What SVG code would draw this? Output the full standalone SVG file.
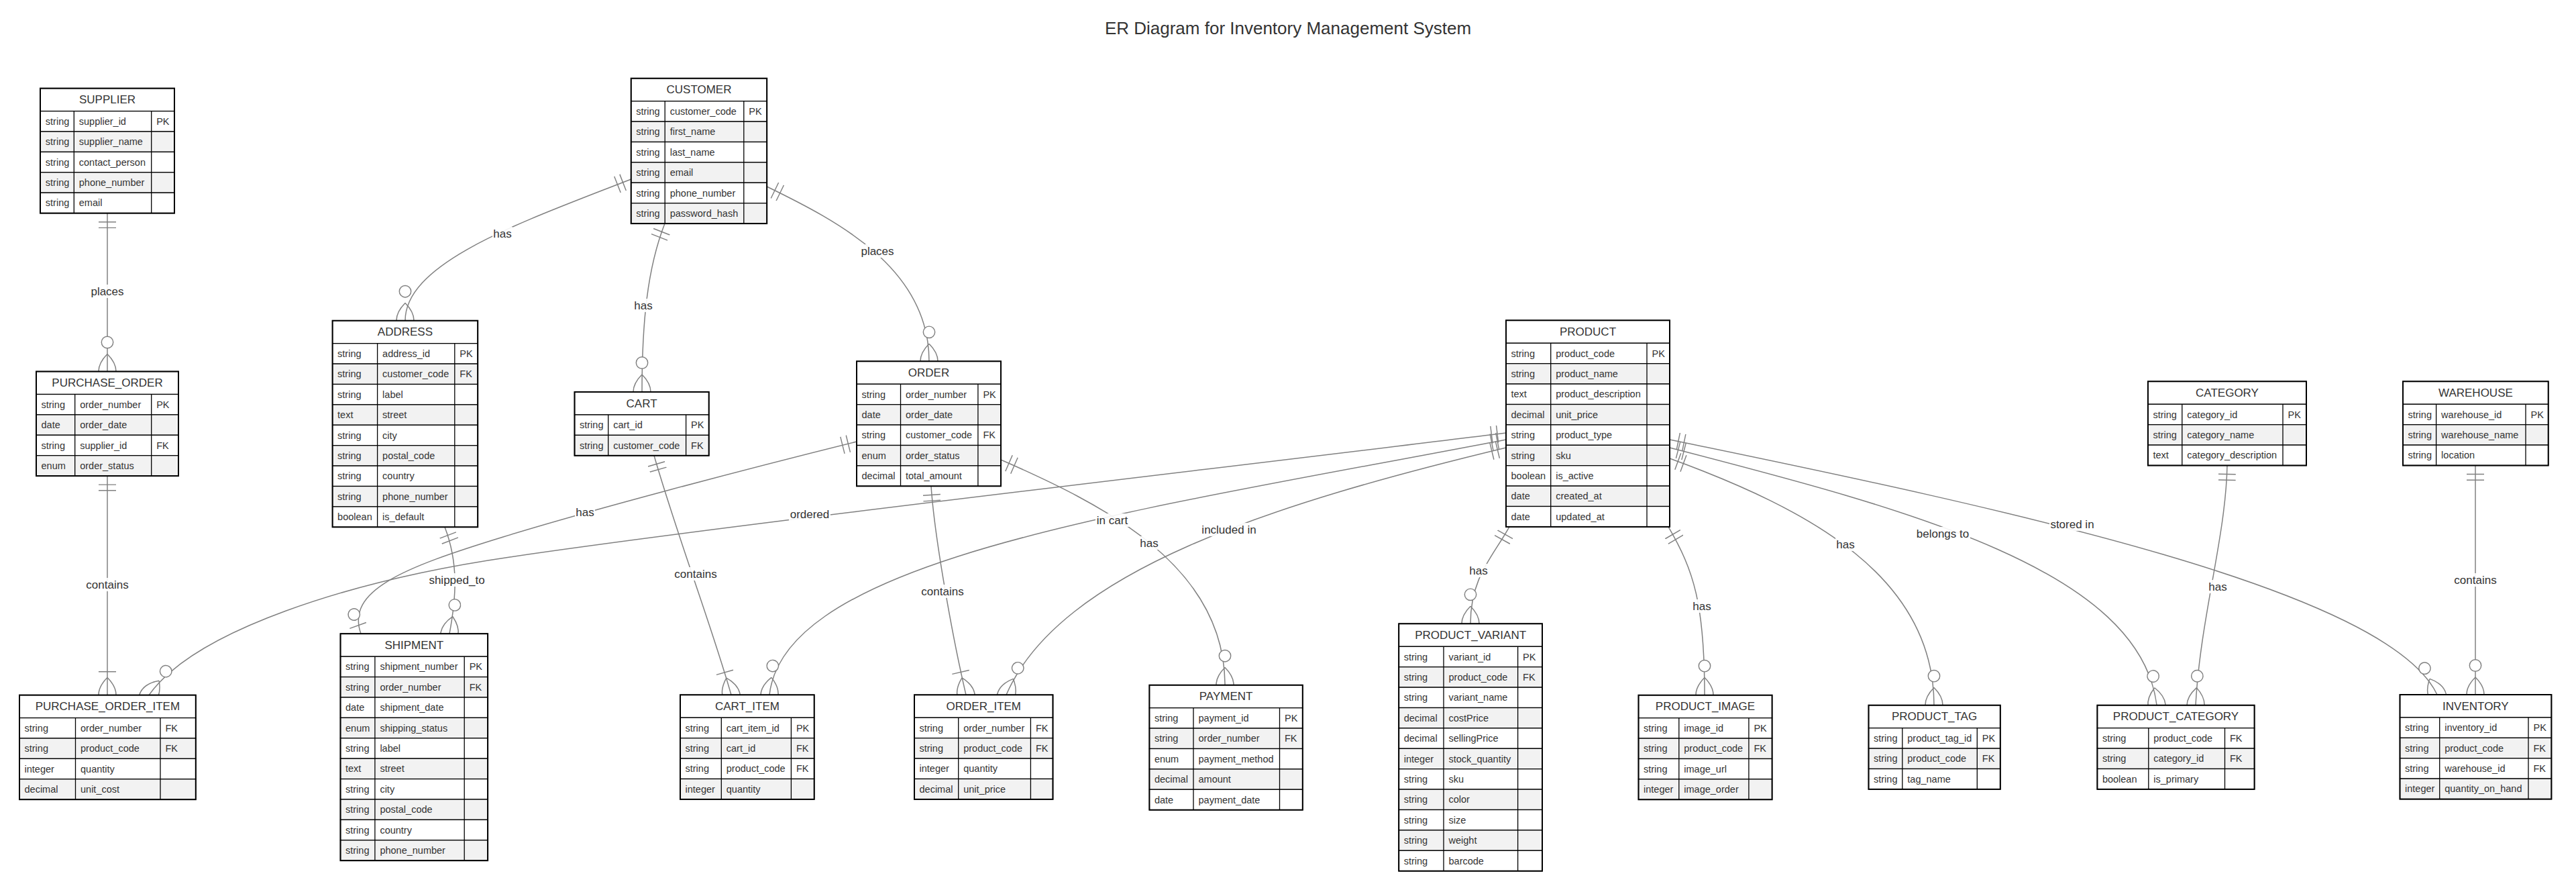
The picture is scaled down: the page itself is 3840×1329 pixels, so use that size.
<svg xmlns="http://www.w3.org/2000/svg" width="3840" height="1329" viewBox="0 0 3840 1329">
<style>
.bg{fill:#fff}
.hd,.o{fill:#fff;stroke:#000;stroke-width:1.3}
.e{fill:#f2f2f2;stroke:#000;stroke-width:1.3}
.dv{stroke:#000;stroke-width:1.3}
.bx{fill:none;stroke:#000;stroke-width:2}
.t{font-family:"Liberation Sans",Arial,sans-serif;font-size:14.5px;fill:#333;dominant-baseline:central}
.h{font-family:"Liberation Sans",Arial,sans-serif;font-size:17px;fill:#333;text-anchor:middle;dominant-baseline:central}
.title{font-family:"Liberation Sans",Arial,sans-serif;font-size:26px;fill:#333;text-anchor:middle}
.rel{fill:none;stroke:#808080;stroke-width:1.5}
.one{marker-start:url(#oneStart)}
.zm{marker-end:url(#zeroMany)}
.om{marker-end:url(#oneMany)}
.zo{marker-end:url(#zeroOne)}
.lb{fill:#fff;opacity:0.9}
.lt{font-family:"Liberation Sans",Arial,sans-serif;font-size:17px;fill:#333;text-anchor:middle;dominant-baseline:central}
.mk{fill:none;stroke:#808080;stroke-width:1}
.mc{fill:#fff;stroke:#808080;stroke-width:1}
</style>
<defs>
<marker id="oneStart" viewBox="0 0 18 18" markerUnits="userSpaceOnUse" markerWidth="26.1" markerHeight="26.1" refX="0" refY="9" orient="auto"><path class="mk" d="M9,0 L9,18 M15,0 L15,18"/></marker>
<marker id="zeroMany" viewBox="0 0 57 36" markerUnits="userSpaceOnUse" markerWidth="82.65" markerHeight="52.2" refX="39" refY="18" orient="auto"><circle class="mc" cx="9" cy="18" r="6"/><path class="mk" d="M21,18 Q39,0 57,18 Q39,36 21,18"/></marker>
<marker id="oneMany" viewBox="0 0 45 36" markerUnits="userSpaceOnUse" markerWidth="65.25" markerHeight="52.2" refX="27" refY="18" orient="auto"><path class="mk" d="M3,9 L3,27 M9,18 Q27,0 45,18 Q27,36 9,18"/></marker>
<marker id="zeroOne" viewBox="0 0 30 18" markerUnits="userSpaceOnUse" markerWidth="43.5" markerHeight="26.1" refX="30" refY="9" orient="auto"><circle class="mc" cx="9" cy="9" r="6"/><path class="mk" d="M21,0 L21,18"/></marker>
</defs>
<rect class="bg" x="0" y="0" width="3840" height="1329"/>
<text class="title" x="1920" y="51">ER Diagram for Inventory Management System</text>

<g id="connectors">
<path class="rel one zm" d="M160,317.6 L160,553.5"/>
<path class="rel one om" d="M160,709.1 L160,1035.6"/>
<path class="rel one zm" d="M940.7,267 C780,330 604,390 604,477.7"/>
<path class="rel one zm" d="M991,333.1 C965,400 957,480 957,584"/>
<path class="rel one zm" d="M1143.2,278 C1250,330 1385,400 1385,538.3"/>
<path class="rel one zm" d="M663,785.3 C684,840 680,890 670,944.2"/>
<path class="rel one zo" d="M1277,658 C1100,702 880,760 750,800 C600,846 515,880 538,944.2"/>
<path class="rel one om" d="M975,678.8 C1010,800 1060,930 1090,1035.3"/>
<path class="rel one om" d="M1388,724.3 C1393,800 1420,950 1440,1035.3"/>
<path class="rel one zm" d="M1492,685 C1640,750 1826,840 1826,1020.7"/>
<path class="rel one zm" d="M2245,645 C1800,700 1100,780 760,830 C520,865 290,940 222,1035.6"/>
<path class="rel one zm" d="M2245,655 C1700,760 1170,830 1147,1035.3"/>
<path class="rel one zm" d="M2245,667 C1900,750 1580,850 1500,1035.3"/>
<path class="rel one zm" d="M2250,784.9 C2225,830 2192,860 2192,929.3"/>
<path class="rel one zm" d="M2487,784.9 C2525,850 2541,900 2541,1035.7"/>
<path class="rel one zm" d="M2489,683 C2700,760 2883,860 2883,1050.7"/>
<path class="rel one zm" d="M2489,667 C2850,760 3190,850 3215,1050.7"/>
<path class="rel one zm" d="M2489,655 C3000,760 3560,880 3633,1035"/>
<path class="rel one zm" d="M3320,693.5 C3318,800 3280,920 3273,1050.7"/>
<path class="rel one zm" d="M3690,693.5 L3690,1035"/>
<rect class="lb" x="134" y="424" width="52" height="20"/><text class="lt" x="160" y="434">places</text>
<rect class="lb" x="127" y="861" width="66" height="20"/><text class="lt" x="160" y="871">contains</text>
<rect class="lb" x="734" y="338" width="30" height="20"/><text class="lt" x="749" y="348">has</text>
<rect class="lb" x="944" y="445" width="30" height="20"/><text class="lt" x="959" y="455">has</text>
<rect class="lb" x="1282" y="364" width="52" height="20"/><text class="lt" x="1308" y="374">places</text>
<rect class="lb" x="638" y="854" width="86" height="20"/><text class="lt" x="681" y="864">shipped_to</text>
<rect class="lb" x="857" y="753" width="30" height="20"/><text class="lt" x="872" y="763">has</text>
<rect class="lb" x="1004" y="845" width="66" height="20"/><text class="lt" x="1037" y="855">contains</text>
<rect class="lb" x="1372" y="871" width="66" height="20"/><text class="lt" x="1405" y="881">contains</text>
<rect class="lb" x="1698" y="799" width="30" height="20"/><text class="lt" x="1713" y="809">has</text>
<rect class="lb" x="1176" y="756" width="62" height="20"/><text class="lt" x="1207" y="766">ordered</text>
<rect class="lb" x="1633" y="765" width="50" height="20"/><text class="lt" x="1658" y="775">in cart</text>
<rect class="lb" x="1790" y="779" width="84" height="20"/><text class="lt" x="1832" y="789">included in</text>
<rect class="lb" x="2189" y="840" width="30" height="20"/><text class="lt" x="2204" y="850">has</text>
<rect class="lb" x="2522" y="893" width="30" height="20"/><text class="lt" x="2537" y="903">has</text>
<rect class="lb" x="2736" y="801" width="30" height="20"/><text class="lt" x="2751" y="811">has</text>
<rect class="lb" x="2855" y="785" width="82" height="20"/><text class="lt" x="2896" y="795">belongs to</text>
<rect class="lb" x="3055" y="771" width="68" height="20"/><text class="lt" x="3089" y="781">stored in</text>
<rect class="lb" x="3291" y="864" width="30" height="20"/><text class="lt" x="3306" y="874">has</text>
<rect class="lb" x="3657" y="854" width="66" height="20"/><text class="lt" x="3690" y="864">contains</text>
</g>

<g id="SUPPLIER">
<rect class="hd" x="60" y="131.6" width="200" height="34"/>
<rect class="o" x="60" y="165.6" width="200" height="30.4"/>
<rect class="e" x="60" y="196" width="200" height="30.4"/>
<rect class="o" x="60" y="226.4" width="200" height="30.4"/>
<rect class="e" x="60" y="256.8" width="200" height="30.4"/>
<rect class="o" x="60" y="287.2" width="200" height="30.4"/>
<line class="dv" x1="110.3" y1="165.6" x2="110.3" y2="317.6"/>
<line class="dv" x1="225.7" y1="165.6" x2="225.7" y2="317.6"/>
<rect class="bx" x="60" y="131.6" width="200" height="186"/>
<text class="h" x="160" y="148.6">SUPPLIER</text>
<text class="t" x="67.8" y="180.8">string</text><text class="t" x="117.8" y="180.8">supplier_id</text><text class="t" x="233.2" y="180.8">PK</text>
<text class="t" x="67.8" y="211.2">string</text><text class="t" x="117.8" y="211.2">supplier_name</text>
<text class="t" x="67.8" y="241.6">string</text><text class="t" x="117.8" y="241.6">contact_person</text>
<text class="t" x="67.8" y="272">string</text><text class="t" x="117.8" y="272">phone_number</text>
<text class="t" x="67.8" y="302.4">string</text><text class="t" x="117.8" y="302.4">email</text>
</g>

<g id="CUSTOMER">
<rect class="hd" x="940.7" y="116.7" width="202.5" height="34"/>
<rect class="o" x="940.7" y="150.7" width="202.5" height="30.4"/>
<rect class="e" x="940.7" y="181.1" width="202.5" height="30.4"/>
<rect class="o" x="940.7" y="211.5" width="202.5" height="30.4"/>
<rect class="e" x="940.7" y="241.9" width="202.5" height="30.4"/>
<rect class="o" x="940.7" y="272.3" width="202.5" height="30.4"/>
<rect class="e" x="940.7" y="302.7" width="202.5" height="30.4"/>
<line class="dv" x1="991.2" y1="150.7" x2="991.2" y2="333.1"/>
<line class="dv" x1="1108.8" y1="150.7" x2="1108.8" y2="333.1"/>
<rect class="bx" x="940.7" y="116.7" width="202.5" height="216.4"/>
<text class="h" x="1042" y="133.7">CUSTOMER</text>
<text class="t" x="948.2" y="165.9">string</text><text class="t" x="998.7" y="165.9">customer_code</text><text class="t" x="1116.3" y="165.9">PK</text>
<text class="t" x="948.2" y="196.3">string</text><text class="t" x="998.7" y="196.3">first_name</text>
<text class="t" x="948.2" y="226.7">string</text><text class="t" x="998.7" y="226.7">last_name</text>
<text class="t" x="948.2" y="257.1">string</text><text class="t" x="998.7" y="257.1">email</text>
<text class="t" x="948.2" y="287.5">string</text><text class="t" x="998.7" y="287.5">phone_number</text>
<text class="t" x="948.2" y="317.9">string</text><text class="t" x="998.7" y="317.9">password_hash</text>
</g>

<g id="PURCHASE_ORDER">
<rect class="hd" x="54" y="553.5" width="212" height="34"/>
<rect class="o" x="54" y="587.5" width="212" height="30.4"/>
<rect class="e" x="54" y="617.9" width="212" height="30.4"/>
<rect class="o" x="54" y="648.3" width="212" height="30.4"/>
<rect class="e" x="54" y="678.7" width="212" height="30.4"/>
<line class="dv" x1="111.7" y1="587.5" x2="111.7" y2="709.1"/>
<line class="dv" x1="225.7" y1="587.5" x2="225.7" y2="709.1"/>
<rect class="bx" x="54" y="553.5" width="212" height="155.6"/>
<text class="h" x="160" y="570.5">PURCHASE_ORDER</text>
<text class="t" x="61.5" y="602.7">string</text><text class="t" x="119.2" y="602.7">order_number</text><text class="t" x="233.2" y="602.7">PK</text>
<text class="t" x="61.5" y="633.1">date</text><text class="t" x="119.2" y="633.1">order_date</text>
<text class="t" x="61.5" y="663.5">string</text><text class="t" x="119.2" y="663.5">supplier_id</text><text class="t" x="233.2" y="663.5">FK</text>
<text class="t" x="61.5" y="693.9">enum</text><text class="t" x="119.2" y="693.9">order_status</text>
</g>

<g id="ADDRESS">
<rect class="hd" x="495.6" y="477.7" width="216.6" height="34"/>
<rect class="o" x="495.6" y="511.7" width="216.6" height="30.4"/>
<rect class="e" x="495.6" y="542.1" width="216.6" height="30.4"/>
<rect class="o" x="495.6" y="572.5" width="216.6" height="30.4"/>
<rect class="e" x="495.6" y="602.9" width="216.6" height="30.4"/>
<rect class="o" x="495.6" y="633.3" width="216.6" height="30.4"/>
<rect class="e" x="495.6" y="663.7" width="216.6" height="30.4"/>
<rect class="o" x="495.6" y="694.1" width="216.6" height="30.4"/>
<rect class="e" x="495.6" y="724.5" width="216.6" height="30.4"/>
<rect class="o" x="495.6" y="754.9" width="216.6" height="30.4"/>
<line class="dv" x1="562.6" y1="511.7" x2="562.6" y2="785.3"/>
<line class="dv" x1="677.8" y1="511.7" x2="677.8" y2="785.3"/>
<rect class="bx" x="495.6" y="477.7" width="216.6" height="307.6"/>
<text class="h" x="603.9" y="494.7">ADDRESS</text>
<text class="t" x="503.1" y="526.9">string</text><text class="t" x="570.1" y="526.9">address_id</text><text class="t" x="685.3" y="526.9">PK</text>
<text class="t" x="503.1" y="557.3">string</text><text class="t" x="570.1" y="557.3">customer_code</text><text class="t" x="685.3" y="557.3">FK</text>
<text class="t" x="503.1" y="587.7">string</text><text class="t" x="570.1" y="587.7">label</text>
<text class="t" x="503.1" y="618.1">text</text><text class="t" x="570.1" y="618.1">street</text>
<text class="t" x="503.1" y="648.5">string</text><text class="t" x="570.1" y="648.5">city</text>
<text class="t" x="503.1" y="678.9">string</text><text class="t" x="570.1" y="678.9">postal_code</text>
<text class="t" x="503.1" y="709.3">string</text><text class="t" x="570.1" y="709.3">country</text>
<text class="t" x="503.1" y="739.7">string</text><text class="t" x="570.1" y="739.7">phone_number</text>
<text class="t" x="503.1" y="770.1">boolean</text><text class="t" x="570.1" y="770.1">is_default</text>
</g>

<g id="CART">
<rect class="hd" x="856.5" y="584" width="200.2" height="34"/>
<rect class="o" x="856.5" y="618" width="200.2" height="30.4"/>
<rect class="e" x="856.5" y="648.4" width="200.2" height="30.4"/>
<line class="dv" x1="906.7" y1="618" x2="906.7" y2="678.8"/>
<line class="dv" x1="1022.6" y1="618" x2="1022.6" y2="678.8"/>
<rect class="bx" x="856.5" y="584" width="200.2" height="94.8"/>
<text class="h" x="956.6" y="601">CART</text>
<text class="t" x="864" y="633.2">string</text><text class="t" x="914.2" y="633.2">cart_id</text><text class="t" x="1030.1" y="633.2">PK</text>
<text class="t" x="864" y="663.6">string</text><text class="t" x="914.2" y="663.6">customer_code</text><text class="t" x="1030.1" y="663.6">FK</text>
</g>

<g id="ORDER">
<rect class="hd" x="1277" y="538.3" width="215" height="34"/>
<rect class="o" x="1277" y="572.3" width="215" height="30.4"/>
<rect class="e" x="1277" y="602.7" width="215" height="30.4"/>
<rect class="o" x="1277" y="633.1" width="215" height="30.4"/>
<rect class="e" x="1277" y="663.5" width="215" height="30.4"/>
<rect class="o" x="1277" y="693.9" width="215" height="30.4"/>
<line class="dv" x1="1342.5" y1="572.3" x2="1342.5" y2="724.3"/>
<line class="dv" x1="1457.9" y1="572.3" x2="1457.9" y2="724.3"/>
<rect class="bx" x="1277" y="538.3" width="215" height="186"/>
<text class="h" x="1384.5" y="555.3">ORDER</text>
<text class="t" x="1284.5" y="587.5">string</text><text class="t" x="1350" y="587.5">order_number</text><text class="t" x="1465.4" y="587.5">PK</text>
<text class="t" x="1284.5" y="617.9">date</text><text class="t" x="1350" y="617.9">order_date</text>
<text class="t" x="1284.5" y="648.3">string</text><text class="t" x="1350" y="648.3">customer_code</text><text class="t" x="1465.4" y="648.3">FK</text>
<text class="t" x="1284.5" y="678.7">enum</text><text class="t" x="1350" y="678.7">order_status</text>
<text class="t" x="1284.5" y="709.1">decimal</text><text class="t" x="1350" y="709.1">total_amount</text>
</g>

<g id="PRODUCT">
<rect class="hd" x="2245" y="477.3" width="244" height="34"/>
<rect class="o" x="2245" y="511.3" width="244" height="30.4"/>
<rect class="e" x="2245" y="541.7" width="244" height="30.4"/>
<rect class="o" x="2245" y="572.1" width="244" height="30.4"/>
<rect class="e" x="2245" y="602.5" width="244" height="30.4"/>
<rect class="o" x="2245" y="632.9" width="244" height="30.4"/>
<rect class="e" x="2245" y="663.3" width="244" height="30.4"/>
<rect class="o" x="2245" y="693.7" width="244" height="30.4"/>
<rect class="e" x="2245" y="724.1" width="244" height="30.4"/>
<rect class="o" x="2245" y="754.5" width="244" height="30.4"/>
<line class="dv" x1="2311.7" y1="511.3" x2="2311.7" y2="784.9"/>
<line class="dv" x1="2455" y1="511.3" x2="2455" y2="784.9"/>
<rect class="bx" x="2245" y="477.3" width="244" height="307.6"/>
<text class="h" x="2367" y="494.3">PRODUCT</text>
<text class="t" x="2252.5" y="526.5">string</text><text class="t" x="2319.2" y="526.5">product_code</text><text class="t" x="2462.5" y="526.5">PK</text>
<text class="t" x="2252.5" y="556.9">string</text><text class="t" x="2319.2" y="556.9">product_name</text>
<text class="t" x="2252.5" y="587.3">text</text><text class="t" x="2319.2" y="587.3">product_description</text>
<text class="t" x="2252.5" y="617.7">decimal</text><text class="t" x="2319.2" y="617.7">unit_price</text>
<text class="t" x="2252.5" y="648.1">string</text><text class="t" x="2319.2" y="648.1">product_type</text>
<text class="t" x="2252.5" y="678.5">string</text><text class="t" x="2319.2" y="678.5">sku</text>
<text class="t" x="2252.5" y="708.9">boolean</text><text class="t" x="2319.2" y="708.9">is_active</text>
<text class="t" x="2252.5" y="739.3">date</text><text class="t" x="2319.2" y="739.3">created_at</text>
<text class="t" x="2252.5" y="769.7">date</text><text class="t" x="2319.2" y="769.7">updated_at</text>
</g>

<g id="CATEGORY">
<rect class="hd" x="3201.9" y="568.3" width="236.1" height="34"/>
<rect class="o" x="3201.9" y="602.3" width="236.1" height="30.4"/>
<rect class="e" x="3201.9" y="632.7" width="236.1" height="30.4"/>
<rect class="o" x="3201.9" y="663.1" width="236.1" height="30.4"/>
<line class="dv" x1="3252.8" y1="602.3" x2="3252.8" y2="693.5"/>
<line class="dv" x1="3403" y1="602.3" x2="3403" y2="693.5"/>
<rect class="bx" x="3201.9" y="568.3" width="236.1" height="125.2"/>
<text class="h" x="3320" y="585.3">CATEGORY</text>
<text class="t" x="3209.4" y="617.5">string</text><text class="t" x="3260.3" y="617.5">category_id</text><text class="t" x="3410.5" y="617.5">PK</text>
<text class="t" x="3209.4" y="647.9">string</text><text class="t" x="3260.3" y="647.9">category_name</text>
<text class="t" x="3209.4" y="678.3">text</text><text class="t" x="3260.3" y="678.3">category_description</text>
</g>

<g id="WAREHOUSE">
<rect class="hd" x="3582" y="568.3" width="216.7" height="34"/>
<rect class="o" x="3582" y="602.3" width="216.7" height="30.4"/>
<rect class="e" x="3582" y="632.7" width="216.7" height="30.4"/>
<rect class="o" x="3582" y="663.1" width="216.7" height="30.4"/>
<line class="dv" x1="3631.6" y1="602.3" x2="3631.6" y2="693.5"/>
<line class="dv" x1="3765" y1="602.3" x2="3765" y2="693.5"/>
<rect class="bx" x="3582" y="568.3" width="216.7" height="125.2"/>
<text class="h" x="3690.4" y="585.3">WAREHOUSE</text>
<text class="t" x="3589.5" y="617.5">string</text><text class="t" x="3639.1" y="617.5">warehouse_id</text><text class="t" x="3772.5" y="617.5">PK</text>
<text class="t" x="3589.5" y="647.9">string</text><text class="t" x="3639.1" y="647.9">warehouse_name</text>
<text class="t" x="3589.5" y="678.3">string</text><text class="t" x="3639.1" y="678.3">location</text>
</g>

<g id="PURCHASE_ORDER_ITEM">
<rect class="hd" x="29" y="1035.6" width="262.8" height="34"/>
<rect class="o" x="29" y="1069.6" width="262.8" height="30.4"/>
<rect class="e" x="29" y="1100" width="262.8" height="30.4"/>
<rect class="o" x="29" y="1130.4" width="262.8" height="30.4"/>
<rect class="e" x="29" y="1160.8" width="262.8" height="30.4"/>
<line class="dv" x1="112.5" y1="1069.6" x2="112.5" y2="1191.2"/>
<line class="dv" x1="239" y1="1069.6" x2="239" y2="1191.2"/>
<rect class="bx" x="29" y="1035.6" width="262.8" height="155.6"/>
<text class="h" x="160.4" y="1052.6">PURCHASE_ORDER_ITEM</text>
<text class="t" x="36.5" y="1084.8">string</text><text class="t" x="120" y="1084.8">order_number</text><text class="t" x="246.5" y="1084.8">FK</text>
<text class="t" x="36.5" y="1115.2">string</text><text class="t" x="120" y="1115.2">product_code</text><text class="t" x="246.5" y="1115.2">FK</text>
<text class="t" x="36.5" y="1145.6">integer</text><text class="t" x="120" y="1145.6">quantity</text>
<text class="t" x="36.5" y="1176">decimal</text><text class="t" x="120" y="1176">unit_cost</text>
</g>

<g id="SHIPMENT">
<rect class="hd" x="507.5" y="944.2" width="219.6" height="34"/>
<rect class="o" x="507.5" y="978.2" width="219.6" height="30.4"/>
<rect class="e" x="507.5" y="1008.6" width="219.6" height="30.4"/>
<rect class="o" x="507.5" y="1039" width="219.6" height="30.4"/>
<rect class="e" x="507.5" y="1069.4" width="219.6" height="30.4"/>
<rect class="o" x="507.5" y="1099.8" width="219.6" height="30.4"/>
<rect class="e" x="507.5" y="1130.2" width="219.6" height="30.4"/>
<rect class="o" x="507.5" y="1160.6" width="219.6" height="30.4"/>
<rect class="e" x="507.5" y="1191" width="219.6" height="30.4"/>
<rect class="o" x="507.5" y="1221.4" width="219.6" height="30.4"/>
<rect class="e" x="507.5" y="1251.8" width="219.6" height="30.4"/>
<line class="dv" x1="558.9" y1="978.2" x2="558.9" y2="1282.2"/>
<line class="dv" x1="692.2" y1="978.2" x2="692.2" y2="1282.2"/>
<rect class="bx" x="507.5" y="944.2" width="219.6" height="338"/>
<text class="h" x="617.3" y="961.2">SHIPMENT</text>
<text class="t" x="515" y="993.4">string</text><text class="t" x="566.4" y="993.4">shipment_number</text><text class="t" x="699.7" y="993.4">PK</text>
<text class="t" x="515" y="1023.8">string</text><text class="t" x="566.4" y="1023.8">order_number</text><text class="t" x="699.7" y="1023.8">FK</text>
<text class="t" x="515" y="1054.2">date</text><text class="t" x="566.4" y="1054.2">shipment_date</text>
<text class="t" x="515" y="1084.6">enum</text><text class="t" x="566.4" y="1084.6">shipping_status</text>
<text class="t" x="515" y="1115">string</text><text class="t" x="566.4" y="1115">label</text>
<text class="t" x="515" y="1145.4">text</text><text class="t" x="566.4" y="1145.4">street</text>
<text class="t" x="515" y="1175.8">string</text><text class="t" x="566.4" y="1175.8">city</text>
<text class="t" x="515" y="1206.2">string</text><text class="t" x="566.4" y="1206.2">postal_code</text>
<text class="t" x="515" y="1236.6">string</text><text class="t" x="566.4" y="1236.6">country</text>
<text class="t" x="515" y="1267">string</text><text class="t" x="566.4" y="1267">phone_number</text>
</g>

<g id="CART_ITEM">
<rect class="hd" x="1014" y="1035.3" width="199.7" height="34"/>
<rect class="o" x="1014" y="1069.3" width="199.7" height="30.4"/>
<rect class="e" x="1014" y="1099.7" width="199.7" height="30.4"/>
<rect class="o" x="1014" y="1130.1" width="199.7" height="30.4"/>
<rect class="e" x="1014" y="1160.5" width="199.7" height="30.4"/>
<line class="dv" x1="1075.3" y1="1069.3" x2="1075.3" y2="1190.9"/>
<line class="dv" x1="1179.4" y1="1069.3" x2="1179.4" y2="1190.9"/>
<rect class="bx" x="1014" y="1035.3" width="199.7" height="155.6"/>
<text class="h" x="1113.9" y="1052.3">CART_ITEM</text>
<text class="t" x="1021.5" y="1084.5">string</text><text class="t" x="1082.8" y="1084.5">cart_item_id</text><text class="t" x="1186.9" y="1084.5">PK</text>
<text class="t" x="1021.5" y="1114.9">string</text><text class="t" x="1082.8" y="1114.9">cart_id</text><text class="t" x="1186.9" y="1114.9">FK</text>
<text class="t" x="1021.5" y="1145.3">string</text><text class="t" x="1082.8" y="1145.3">product_code</text><text class="t" x="1186.9" y="1145.3">FK</text>
<text class="t" x="1021.5" y="1175.7">integer</text><text class="t" x="1082.8" y="1175.7">quantity</text>
</g>

<g id="ORDER_ITEM">
<rect class="hd" x="1363" y="1035.3" width="206.5" height="34"/>
<rect class="o" x="1363" y="1069.3" width="206.5" height="30.4"/>
<rect class="e" x="1363" y="1099.7" width="206.5" height="30.4"/>
<rect class="o" x="1363" y="1130.1" width="206.5" height="30.4"/>
<rect class="e" x="1363" y="1160.5" width="206.5" height="30.4"/>
<line class="dv" x1="1428.7" y1="1069.3" x2="1428.7" y2="1190.9"/>
<line class="dv" x1="1536.4" y1="1069.3" x2="1536.4" y2="1190.9"/>
<rect class="bx" x="1363" y="1035.3" width="206.5" height="155.6"/>
<text class="h" x="1466.3" y="1052.3">ORDER_ITEM</text>
<text class="t" x="1370.5" y="1084.5">string</text><text class="t" x="1436.2" y="1084.5">order_number</text><text class="t" x="1543.9" y="1084.5">FK</text>
<text class="t" x="1370.5" y="1114.9">string</text><text class="t" x="1436.2" y="1114.9">product_code</text><text class="t" x="1543.9" y="1114.9">FK</text>
<text class="t" x="1370.5" y="1145.3">integer</text><text class="t" x="1436.2" y="1145.3">quantity</text>
<text class="t" x="1370.5" y="1175.7">decimal</text><text class="t" x="1436.2" y="1175.7">unit_price</text>
</g>

<g id="PAYMENT">
<rect class="hd" x="1713.4" y="1020.7" width="228.4" height="34"/>
<rect class="o" x="1713.4" y="1054.7" width="228.4" height="30.4"/>
<rect class="e" x="1713.4" y="1085.1" width="228.4" height="30.4"/>
<rect class="o" x="1713.4" y="1115.5" width="228.4" height="30.4"/>
<rect class="e" x="1713.4" y="1145.9" width="228.4" height="30.4"/>
<rect class="o" x="1713.4" y="1176.3" width="228.4" height="30.4"/>
<line class="dv" x1="1779" y1="1054.7" x2="1779" y2="1206.7"/>
<line class="dv" x1="1907.5" y1="1054.7" x2="1907.5" y2="1206.7"/>
<rect class="bx" x="1713.4" y="1020.7" width="228.4" height="186"/>
<text class="h" x="1827.6" y="1037.7">PAYMENT</text>
<text class="t" x="1720.9" y="1069.9">string</text><text class="t" x="1786.5" y="1069.9">payment_id</text><text class="t" x="1915" y="1069.9">PK</text>
<text class="t" x="1720.9" y="1100.3">string</text><text class="t" x="1786.5" y="1100.3">order_number</text><text class="t" x="1915" y="1100.3">FK</text>
<text class="t" x="1720.9" y="1130.7">enum</text><text class="t" x="1786.5" y="1130.7">payment_method</text>
<text class="t" x="1720.9" y="1161.1">decimal</text><text class="t" x="1786.5" y="1161.1">amount</text>
<text class="t" x="1720.9" y="1191.5">date</text><text class="t" x="1786.5" y="1191.5">payment_date</text>
</g>

<g id="PRODUCT_VARIANT">
<rect class="hd" x="2085.2" y="929.3" width="213.8" height="34"/>
<rect class="o" x="2085.2" y="963.3" width="213.8" height="30.4"/>
<rect class="e" x="2085.2" y="993.7" width="213.8" height="30.4"/>
<rect class="o" x="2085.2" y="1024.1" width="213.8" height="30.4"/>
<rect class="e" x="2085.2" y="1054.5" width="213.8" height="30.4"/>
<rect class="o" x="2085.2" y="1084.9" width="213.8" height="30.4"/>
<rect class="e" x="2085.2" y="1115.3" width="213.8" height="30.4"/>
<rect class="o" x="2085.2" y="1145.7" width="213.8" height="30.4"/>
<rect class="e" x="2085.2" y="1176.1" width="213.8" height="30.4"/>
<rect class="o" x="2085.2" y="1206.5" width="213.8" height="30.4"/>
<rect class="e" x="2085.2" y="1236.9" width="213.8" height="30.4"/>
<rect class="o" x="2085.2" y="1267.3" width="213.8" height="30.4"/>
<line class="dv" x1="2152" y1="963.3" x2="2152" y2="1297.7"/>
<line class="dv" x1="2262.6" y1="963.3" x2="2262.6" y2="1297.7"/>
<rect class="bx" x="2085.2" y="929.3" width="213.8" height="368.4"/>
<text class="h" x="2192.1" y="946.3">PRODUCT_VARIANT</text>
<text class="t" x="2092.7" y="978.5">string</text><text class="t" x="2159.5" y="978.5">variant_id</text><text class="t" x="2270.1" y="978.5">PK</text>
<text class="t" x="2092.7" y="1008.9">string</text><text class="t" x="2159.5" y="1008.9">product_code</text><text class="t" x="2270.1" y="1008.9">FK</text>
<text class="t" x="2092.7" y="1039.3">string</text><text class="t" x="2159.5" y="1039.3">variant_name</text>
<text class="t" x="2092.7" y="1069.7">decimal</text><text class="t" x="2159.5" y="1069.7">costPrice</text>
<text class="t" x="2092.7" y="1100.1">decimal</text><text class="t" x="2159.5" y="1100.1">sellingPrice</text>
<text class="t" x="2092.7" y="1130.5">integer</text><text class="t" x="2159.5" y="1130.5">stock_quantity</text>
<text class="t" x="2092.7" y="1160.9">string</text><text class="t" x="2159.5" y="1160.9">sku</text>
<text class="t" x="2092.7" y="1191.3">string</text><text class="t" x="2159.5" y="1191.3">color</text>
<text class="t" x="2092.7" y="1221.7">string</text><text class="t" x="2159.5" y="1221.7">size</text>
<text class="t" x="2092.7" y="1252.1">string</text><text class="t" x="2159.5" y="1252.1">weight</text>
<text class="t" x="2092.7" y="1282.5">string</text><text class="t" x="2159.5" y="1282.5">barcode</text>
</g>

<g id="PRODUCT_IMAGE">
<rect class="hd" x="2442.5" y="1035.7" width="199.1" height="34"/>
<rect class="o" x="2442.5" y="1069.7" width="199.1" height="30.4"/>
<rect class="e" x="2442.5" y="1100.1" width="199.1" height="30.4"/>
<rect class="o" x="2442.5" y="1130.5" width="199.1" height="30.4"/>
<rect class="e" x="2442.5" y="1160.9" width="199.1" height="30.4"/>
<line class="dv" x1="2502.8" y1="1069.7" x2="2502.8" y2="1191.3"/>
<line class="dv" x1="2606.9" y1="1069.7" x2="2606.9" y2="1191.3"/>
<rect class="bx" x="2442.5" y="1035.7" width="199.1" height="155.6"/>
<text class="h" x="2542" y="1052.7">PRODUCT_IMAGE</text>
<text class="t" x="2450" y="1084.9">string</text><text class="t" x="2510.3" y="1084.9">image_id</text><text class="t" x="2614.4" y="1084.9">PK</text>
<text class="t" x="2450" y="1115.3">string</text><text class="t" x="2510.3" y="1115.3">product_code</text><text class="t" x="2614.4" y="1115.3">FK</text>
<text class="t" x="2450" y="1145.7">string</text><text class="t" x="2510.3" y="1145.7">image_url</text>
<text class="t" x="2450" y="1176.1">integer</text><text class="t" x="2510.3" y="1176.1">image_order</text>
</g>

<g id="PRODUCT_TAG">
<rect class="hd" x="2785.5" y="1050.7" width="196.3" height="34"/>
<rect class="o" x="2785.5" y="1084.7" width="196.3" height="30.4"/>
<rect class="e" x="2785.5" y="1115.1" width="196.3" height="30.4"/>
<rect class="o" x="2785.5" y="1145.5" width="196.3" height="30.4"/>
<line class="dv" x1="2835.8" y1="1084.7" x2="2835.8" y2="1175.9"/>
<line class="dv" x1="2947.3" y1="1084.7" x2="2947.3" y2="1175.9"/>
<rect class="bx" x="2785.5" y="1050.7" width="196.3" height="125.2"/>
<text class="h" x="2883.6" y="1067.7">PRODUCT_TAG</text>
<text class="t" x="2793" y="1099.9">string</text><text class="t" x="2843.3" y="1099.9">product_tag_id</text><text class="t" x="2954.8" y="1099.9">PK</text>
<text class="t" x="2793" y="1130.3">string</text><text class="t" x="2843.3" y="1130.3">product_code</text><text class="t" x="2954.8" y="1130.3">FK</text>
<text class="t" x="2793" y="1160.7">string</text><text class="t" x="2843.3" y="1160.7">tag_name</text>
</g>

<g id="PRODUCT_CATEGORY">
<rect class="hd" x="3126.4" y="1050.7" width="234.2" height="34"/>
<rect class="o" x="3126.4" y="1084.7" width="234.2" height="30.4"/>
<rect class="e" x="3126.4" y="1115.1" width="234.2" height="30.4"/>
<rect class="o" x="3126.4" y="1145.5" width="234.2" height="30.4"/>
<line class="dv" x1="3202.8" y1="1084.7" x2="3202.8" y2="1175.9"/>
<line class="dv" x1="3316.5" y1="1084.7" x2="3316.5" y2="1175.9"/>
<rect class="bx" x="3126.4" y="1050.7" width="234.2" height="125.2"/>
<text class="h" x="3243.5" y="1067.7">PRODUCT_CATEGORY</text>
<text class="t" x="3133.9" y="1099.9">string</text><text class="t" x="3210.3" y="1099.9">product_code</text><text class="t" x="3324" y="1099.9">FK</text>
<text class="t" x="3133.9" y="1130.3">string</text><text class="t" x="3210.3" y="1130.3">category_id</text><text class="t" x="3324" y="1130.3">FK</text>
<text class="t" x="3133.9" y="1160.7">boolean</text><text class="t" x="3210.3" y="1160.7">is_primary</text>
</g>

<g id="INVENTORY">
<rect class="hd" x="3577.5" y="1035" width="225.9" height="34"/>
<rect class="o" x="3577.5" y="1069" width="225.9" height="30.4"/>
<rect class="e" x="3577.5" y="1099.4" width="225.9" height="30.4"/>
<rect class="o" x="3577.5" y="1129.8" width="225.9" height="30.4"/>
<rect class="e" x="3577.5" y="1160.2" width="225.9" height="30.4"/>
<line class="dv" x1="3636.7" y1="1069" x2="3636.7" y2="1190.6"/>
<line class="dv" x1="3769" y1="1069" x2="3769" y2="1190.6"/>
<rect class="bx" x="3577.5" y="1035" width="225.9" height="155.6"/>
<text class="h" x="3690.4" y="1052">INVENTORY</text>
<text class="t" x="3585" y="1084.2">string</text><text class="t" x="3644.2" y="1084.2">inventory_id</text><text class="t" x="3776.5" y="1084.2">PK</text>
<text class="t" x="3585" y="1114.6">string</text><text class="t" x="3644.2" y="1114.6">product_code</text><text class="t" x="3776.5" y="1114.6">FK</text>
<text class="t" x="3585" y="1145">string</text><text class="t" x="3644.2" y="1145">warehouse_id</text><text class="t" x="3776.5" y="1145">FK</text>
<text class="t" x="3585" y="1175.4">integer</text><text class="t" x="3644.2" y="1175.4">quantity_on_hand</text>
</g>
</svg>
